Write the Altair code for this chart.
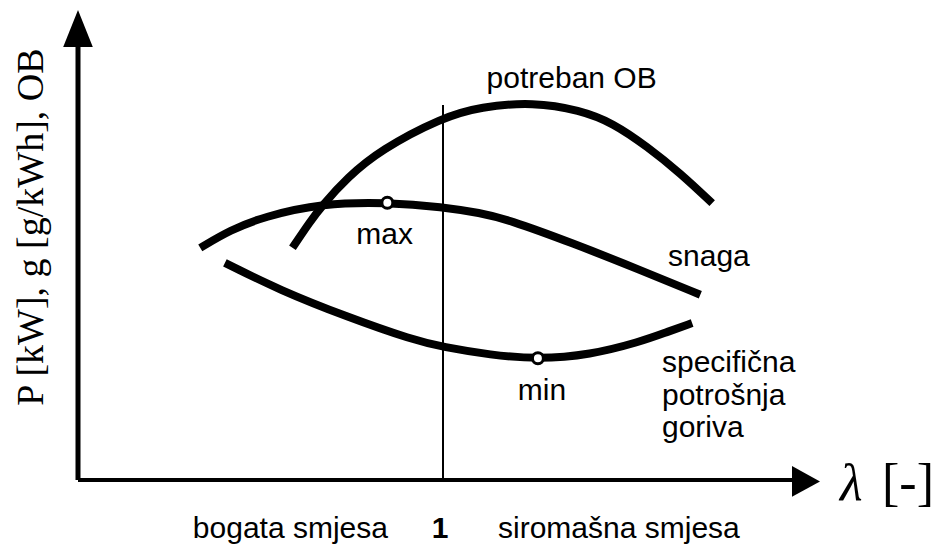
import altair as alt
import pandas as pd

# ---- curve data (lambda on x, relative value on y) ----
snaga_x = [0.734, 0.767, 0.803, 0.868, 0.939, 1.000, 1.041, 1.070, 1.142, 1.216, 1.282]
snaga_y = [49.4, 53.2, 56.0, 58.9, 59.1, 58.1, 56.8, 55.5, 50.4, 44.7, 39.4]

ob_x = [0.835, 0.854, 0.868, 0.895, 0.931, 1.000, 1.041, 1.099, 1.150, 1.186, 1.224, 1.260, 1.295]
ob_y = [49.4, 54.9, 58.5, 64.3, 70.2, 77.2, 79.4, 80.4, 78.7, 76.0, 70.9, 65.3, 58.9]

ge_x = [0.761, 0.821, 0.895, 0.967, 1.000, 1.052, 1.104, 1.161, 1.216, 1.243, 1.273]
ge_y = [46.2, 40.4, 34.7, 29.8, 28.3, 26.6, 25.7, 26.6, 29.4, 31.3, 33.4]

marker_x = [0.939, 1.104]
marker_y = [59.0, 25.9]

# ---- labels ----
sans_text = ["potreban OB", "max", "min"]
sans_x = [1.141, 0.936, 1.1085]
sans_y = [83.4, 50.2, 17.0]

left_text = ["snaga", "specifična", "potrošnja", "goriva", "siromašna smjesa"]
left_x = [1.2466, 1.240, 1.240, 1.240, 1.0603]
left_y = [45.5, 23.0, 16.0, 9.15, -12.3]

XS = alt.Scale(domain=[0.6, 1.4], range=[70, 800])
YS = alt.Scale(domain=[0, 100], range=[472, 2])


def X(f="x"):
    return alt.X(f"{f}:Q", scale=XS, axis=None)


def Y(f="y"):
    return alt.Y(f"{f}:Q", scale=YS, axis=None)


curves = pd.concat([
    pd.DataFrame({"x": snaga_x, "y": snaga_y, "c": "snaga"}),
    pd.DataFrame({"x": ob_x, "y": ob_y, "c": "ob"}),
    pd.DataFrame({"x": ge_x, "y": ge_y, "c": "ge"}),
])

lines = alt.Chart(curves).mark_line(
    color="black", strokeWidth=8, interpolate="basis", strokeCap="butt"
).encode(x=X(), y=Y(), detail="c:N")

markers = alt.Chart(pd.DataFrame({"x": marker_x, "y": marker_y})).mark_point(
    shape="circle", filled=True, fill="white", stroke="black", strokeWidth=3, size=120, opacity=1
).encode(x=X(), y=Y())

# axes
yaxis = alt.Chart(pd.DataFrame({"x": [0.6], "y": [0], "y2": [93]})).mark_rule(
    color="black", strokeWidth=5
).encode(x=X(), y=Y(), y2="y2:Q")
xaxis = alt.Chart(pd.DataFrame({"x": [0.6], "x2": [1.39], "y": [0]})).mark_rule(
    color="black", strokeWidth=4
).encode(x=X(), x2="x2:Q", y=Y())
one_line = alt.Chart(pd.DataFrame({"x": [1.0], "y": [0], "y2": [79.8]})).mark_rule(
    color="black", strokeWidth=2
).encode(x=X(), y=Y(), y2="y2:Q")

yarrow = alt.Chart(pd.DataFrame({"x": [0.6], "y": [96.06]})).mark_point(
    shape="M 0 -1 L 0.8 1 L -0.8 1 Z", filled=True, color="black", size=1369, opacity=1
).encode(x=X(), y=Y())
xarrow = alt.Chart(pd.DataFrame({"x": [1.3978], "y": [-0.3]})).mark_point(
    shape="M -1 -1.1 L 1 0 L -1 1.1 Z", filled=True, color="black", size=784, opacity=1
).encode(x=X(), y=Y())

# text labels
t_center = alt.Chart(pd.DataFrame({"x": sans_x, "y": sans_y, "t": sans_text})).mark_text(
    font="Liberation Sans", fontSize=30, align="center", baseline="alphabetic", color="black"
).encode(x=X(), y=Y(), text="t:N")

t_left = alt.Chart(pd.DataFrame({"x": left_x, "y": left_y, "t": left_text})).mark_text(
    font="Liberation Sans", fontSize=30, align="left", baseline="alphabetic", color="black"
).encode(x=X(), y=Y(), text="t:N")

t_rich = alt.Chart(pd.DataFrame({"x": [0.9397], "y": [-12.3], "t": ["bogata smjesa"]})).mark_text(
    font="Liberation Sans", fontSize=30, align="right", baseline="alphabetic", color="black"
).encode(x=X(), y=Y(), text="t:N")

t_one = alt.Chart(pd.DataFrame({"x": [0.9967], "y": [-12.3], "t": ["1"]})).mark_text(
    font="Liberation Sans", fontSize=30, fontWeight="bold", align="center", baseline="alphabetic", color="black"
).encode(x=X(), y=Y(), text="t:N")

t_lam = alt.Chart(pd.DataFrame({"x": [1.435], "y": [-4.26], "t": ["λ"]})).mark_text(
    font="Liberation Serif", fontSize=52, fontStyle="italic", align="left", baseline="alphabetic", color="black"
).encode(x=X(), y=Y(), text="t:N")

t_unit = alt.Chart(pd.DataFrame({"x": [1.4811], "y": [-4.26], "t": ["[-]"]})).mark_text(
    font="Liberation Serif", fontSize=52, align="left", baseline="alphabetic", color="black"
).encode(x=X(), y=Y(), text="t:N")

t_ytitle = alt.Chart(pd.DataFrame({"x": [0.5616], "y": [53.8], "t": ["P [kW], g [g/kWh], OB"]})).mark_text(
    font="Liberation Serif", fontSize=38, angle=270, align="center", baseline="alphabetic", color="black"
).encode(x=X(), y=Y(), text="t:N")

chart = alt.layer(
    one_line, lines, markers, yaxis, xaxis, yarrow, xarrow,
    t_center, t_left, t_rich, t_one, t_lam, t_unit, t_ytitle
).properties(
    width=925, height=540, autosize=alt.AutoSizeParams(type="none"), padding=0, background="white"
).configure_view(stroke=None)

chart.save("out.html", embed_options={"renderer": "svg", "actions": False})
